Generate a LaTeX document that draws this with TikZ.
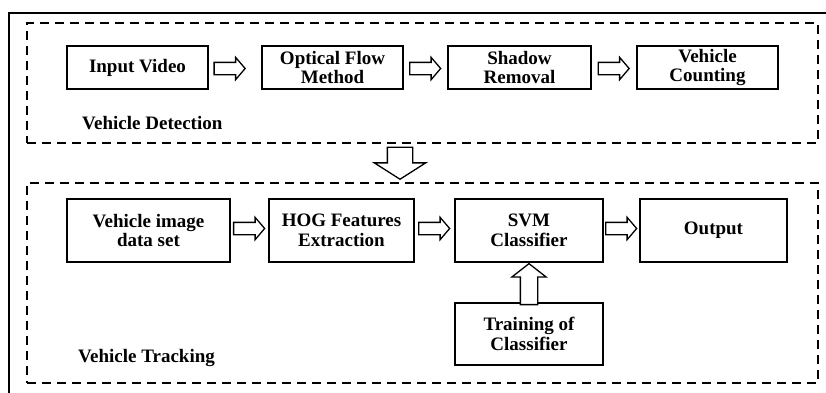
\documentclass[tikz,border=0pt]{standalone}
\usepackage{fontspec}
\setmainfont{Liberation Serif}
\usetikzlibrary{shapes.arrows,calc}
\begin{document}
\begin{tikzpicture}[x=1pt,y=-1pt,
  box/.style={draw,line width=1.6pt,align=center,inner sep=0pt,
    font=\bfseries\fontsize{19}{19.5}\selectfont},
  dashbox/.style={draw,line width=1.6pt,dash pattern=on 9pt off 6pt,inner sep=0pt},
  lbl/.style={anchor=west,inner sep=0pt,font=\bfseries\fontsize{19}{19.5}\selectfont},
  harrow/.style={shape=single arrow,draw,line width=1.3pt,fill=white,inner xsep=0pt,
    inner ysep=5.5pt,single arrow head extend=5pt,single arrow tip angle=99,
    minimum height=31pt,minimum width=21pt,anchor=tip},
  uparrow/.style={shape=single arrow,draw,line width=1.3pt,fill=white,inner xsep=0pt,
    inner ysep=8pt,single arrow head extend=8.5pt,single arrow tip angle=104,
    minimum height=41pt,minimum width=33pt,anchor=tip,rotate=90},
  downarrow/.style={shape=single arrow,draw,line width=1.3pt,fill=white,inner xsep=0pt,
    inner ysep=12pt,single arrow head extend=13pt,single arrow tip angle=115,
    minimum height=32pt,minimum width=50pt,anchor=tip,rotate=-90}
]
\useasboundingbox (0,0) rectangle (826,392);
\fill[white] (0,0) rectangle (826,392);
% outer frame
\draw[line width=1.8pt] (9,395) -- (9,13) -- (830,13);
% dashed groups
\node[dashbox,minimum width=791pt,minimum height=120pt] (det) at (422.5,83) {};
\node[dashbox,minimum width=791pt,minimum height=200pt] (trk) at (422.5,283) {};
\node[lbl] (detl) at (82,123) {Vehicle Detection};
\node[lbl] (trkl) at (78,358) {Vehicle Tracking};
% top row
\node[box,minimum width=141pt,minimum height=43pt] (iv) at (137.5,67.5) {Input Video};
\node[box,minimum width=141pt,minimum height=43pt] (of) at (332.5,67.5) {Optical Flow\\Method};
\node[box,minimum width=143pt,minimum height=43pt] (sr) at (519.5,67.5) {Shadow\\Removal};
\node[box,minimum width=141pt,minimum height=43pt] (vc) at (707.5,67.5) {Vehicle\\Counting};
% bottom row
\node[box,minimum width=163pt,minimum height=63pt] (vi) at (148.5,230.5) {Vehicle image\\data set};
\node[box,minimum width=145pt,minimum height=63pt] (hog) at (341.5,230.5) {HOG Features\\Extraction};
\node[box,minimum width=148pt,minimum height=63pt] (svm) at (529,230.5) {SVM\\Classifier};
\node[box,minimum width=147pt,minimum height=63pt] (out) at (713.5,230.5) {Output};
\node[box,minimum width=148pt,minimum height=62pt] (tr) at (529,334) {Training of\\Classifier};
% arrows
\node[harrow] (a1) at (246,68.5) {};
\node[harrow] (a2) at ($(of.east)!0.5!(sr.west)+(16,1)$) {};
\node[harrow] (a3) at ($(sr.east)!0.5!(vc.west)+(16,1)$) {};
\node[harrow] (b1) at ($(vi.east)!0.5!(hog.west)+(16,-2)$) {};
\node[harrow] (b2) at ($(hog.east)!0.5!(svm.west)+(16,-2)$) {};
\node[harrow] (b3) at ($(svm.east)!0.5!(out.west)+(16,-2)$) {};
\node[uparrow] (u1) at (svm.south) {};
\node[downarrow] (d1) at (400,180) {};
\end{tikzpicture}
\end{document}
